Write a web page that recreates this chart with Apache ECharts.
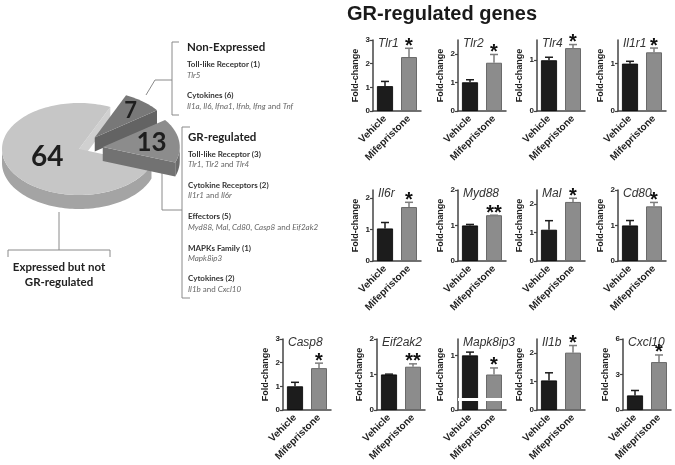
<!DOCTYPE html>
<html><head><meta charset="utf-8">
<script src="https://cdn.jsdelivr.net/npm/echarts@6/dist/echarts.min.js"></script>
<style>html,body{margin:0;padding:0;background:#fff}#c{width:675px;height:465px}</style>
</head><body><div id="c"></div>
<script>
// ---------- data ----------
const genes = ['Tlr1','Tlr2','Tlr4','Il1r1','Il6r','Myd88','Mal','Cd80','Casp8','Eif2ak2','Mapk8ip3','Il1b','Cxcl10'];
const groups = ['Vehicle','Mifepristone'];
const vehicleMean   = [1.05,1.01,1.00,1.00,1.03,1.00,1.10,1.00,1.00,1.00,1.00,1.04,1.23];
const vehicleErrTop = [1.25,1.10,1.06,1.05,1.22,1.03,1.42,1.14,1.17,1.01,1.06,1.31,1.65];
const mifeMean      = [2.28,1.70,1.24,1.24,1.71,1.29,2.08,1.54,1.77,1.22,0.65,2.02,4.05];
const mifeErrTop    = [2.65,1.99,1.31,1.33,1.86,1.29,2.21,1.65,1.98,1.30,0.77,2.27,4.65];
const significance  = ['*','*','*','*','*','**','*','*','*','**','*','*','*'];
const axisMax       = [3,2.5,1.4,1.5,2.25,2,2.5,2,3,2,1.3,2.5,6];
const tickValues    = [[0,1,2,3],[0,1,2],[0,1],[0,1],[0,1,2],[0,1,2],[0,1,2],[0,1,2],[0,1,2,3],[0,1,2],[0,1],[0,1,2],[0,3,6]];
const axisBreakAt   = [null,null,null,null,null,null,null,null,null,null,0.2,null,null];

const pieCategories = ['Expressed but not GR-regulated','Non-Expressed','GR-regulated'];
const pieValues = [64, 7, 13];

// ---------- layout / styles ----------
const panelLeft = [373,458,537,618, 373,458,537,618, 283,377,458,537,623];
const panelTop  = [40,40,40,40, 190,190,190,190, 339,339,339,339,339];
const panelW = 48, panelH = 71;
const vehColor = '#1c1c1c', mifeColor = '#8c8c8c';
const chartFont = 'Liberation Sans, Arial, sans-serif';
const pieFont = 'Lato, Open Sans, sans-serif';

const chart = echarts.init(document.getElementById('c'));
const grids = [], xAxes = [], yAxes = [], series = [], titles = [];

titles.push({text:'GR-regulated genes', left:347, top:4, padding:0,
  textStyle:{fontFamily:chartFont, fontSize:20, fontWeight:'bold', color:'#1a1a1a'}});

genes.forEach((g, i) => {
  grids.push({left:panelLeft[i], top:panelTop[i], width:panelW, height:panelH});
  titles.push({text:g, left:panelLeft[i] + 5, top:panelTop[i] - 2, padding:0,
    textStyle:{fontFamily:chartFont, fontSize:12, fontStyle:'italic', fontWeight:'normal', color:'#333'}});
  xAxes.push({type:'category', gridIndex:i, data:groups,
    axisLine:{lineStyle:{color:'#444', width:1.5}},
    axisTick:{alignWithLabel:true, length:3, lineStyle:{color:'#444', width:1.2}},
    axisLabel:{rotate:45, interval:0, margin:6, fontFamily:chartFont, fontSize:10, fontWeight:'bold', color:'#222'}});
  yAxes.push({type:'value', gridIndex:i, min:0, max:axisMax[i],
    splitLine:{show:false},
    axisLine:{show:true, lineStyle:{color:'#444', width:1.5}},
    axisTick:{show:true, length:3, customValues:tickValues[i], lineStyle:{color:'#444', width:1.2}},
    axisLabel:{customValues:tickValues[i], margin:3, fontFamily:chartFont, fontSize:8, fontWeight:'bold', color:'#222'},
    name:'Fold-change', nameLocation:'middle', nameGap:13, nameRotate:90,
    nameTextStyle:{fontFamily:chartFont, fontSize:9, fontWeight:'bold', color:'#222'}});
  const bar = {type:'bar', xAxisIndex:i, yAxisIndex:i, barWidth:16,
    data:[{value:vehicleMean[i], itemStyle:{color:vehColor, borderColor:'#000', borderWidth:0.8}},
          {value:mifeMean[i], itemStyle:{color:mifeColor, borderColor:'#6a6a6a', borderWidth:1}}]};
  if (axisBreakAt[i] != null) {
    bar.markLine = {silent:true, symbol:'none', label:{show:false},
      lineStyle:{color:'#fff', width:3, type:'solid'}, data:[{yAxis:axisBreakAt[i]}]};
  }
  series.push(bar);
  series.push({type:'custom', xAxisIndex:i, yAxisIndex:i, z:3,
    data:[[0, vehicleMean[i], vehicleErrTop[i]], [1, mifeMean[i], mifeErrTop[i]]],
    renderItem:(params, api) => {
      const x = api.value(0), m = api.value(1), e = api.value(2);
      const p0 = api.coord([x, m]), p1 = api.coord([x, e]);
      const col = x === 0 ? vehColor : '#7d7d7d';
      const ch = [
        {type:'line', shape:{x1:p0[0], y1:p0[1], x2:p1[0], y2:p1[1]}, style:{stroke:col, lineWidth:1.5}},
        {type:'line', shape:{x1:p1[0]-4, y1:p1[1], x2:p1[0]+4, y2:p1[1]}, style:{stroke:col, lineWidth:1.5}}
      ];
      if (params.dataIndex === 1 && significance[i]) {
        ch.push({type:'text', style:{text:significance[i], x:p1[0], y:p1[1] - 2,
          align:'center', verticalAlign:'middle', fontFamily:chartFont, fontSize:20, fontWeight:'bold', fill:'#111'}});
      }
      return {type:'group', children:ch};
    }});
});

// ---------- 3D-style pie ----------
const pieCenter = [79, 149], rx = 77, ry = 46, depth = 14;
const pieStart = 66;           // degrees, counter-clockwise
const pieOrder = [0, 2, 1];    // counter-clockwise order of slices
const pieExplode = [0, 25, 24];
const pieTop  = ['#c6c6c6', '#787878', '#8c8c8c'];
const pieWall = ['#a4a4a4', '#5c5c5c', '#6c6c6c'];
const pieFace = ['#d0d0d0', '#636363', '#727272'];
const pieLabelR = [0.45, 0.74, 0.64];
const pieLabelSize = [28, 22, 26];

function sliceAngles() {
  const total = pieValues.reduce((a,b)=>a+b,0);
  const res = [];
  let a = pieStart;
  pieOrder.forEach(k => { const span = pieValues[k]/total*360; res[k] = [a, a+span]; a += span; });
  return res;
}
series.push({type:'custom', coordinateSystem:'none', z:1, silent:true,
  data: pieValues.map((v,k)=>[k, v]),
  renderItem:(params, api) => {
    const k = params.dataIndex;
    const [a0, a1] = sliceAngles()[k];
    const rad = d => d*Math.PI/180;
    const b = rad((a0+a1)/2);
    const dx = pieExplode[k]*Math.cos(b), dy = -pieExplode[k]*Math.sin(b)*ry/rx;
    const cx = pieCenter[0]+dx, cy = pieCenter[1]+dy;
    const pt = (t, down) => [cx + rx*Math.cos(rad(t)), cy - ry*Math.sin(rad(t)) + (down?depth:0)];
    const arc = (s, e, down) => { const pts=[]; const n=Math.max(2, Math.ceil((e-s)/2)); for(let j=0;j<=n;j++) pts.push(pt(s+(e-s)*j/n, down)); return pts; };
    const ch = [];
    for (let q=-1;q<=1;q++){
      const lo = Math.max(a0, 180+360*q), hi = Math.min(a1, 360+360*q);
      if (lo < hi) {
        const pts = arc(lo, hi, false).concat(arc(lo, hi, true).reverse());
        ch.push({type:'polygon', shape:{points:pts}, style:{fill:pieWall[k]}});
      }
    }
    if (Math.cos(rad(a0)) > 0) {
      const e0 = pt(a0,false), e1 = pt(a0,true);
      ch.push({type:'polygon', shape:{points:[[cx,cy],e0,e1,[cx,cy+depth]]}, style:{fill:pieFace[k]}});
    }
    if (Math.cos(rad(a1)) < 0) {
      const e0 = pt(a1,false), e1 = pt(a1,true);
      ch.push({type:'polygon', shape:{points:[[cx,cy],e0,e1,[cx,cy+depth]]}, style:{fill:pieFace[k]}});
    }
    ch.push({type:'polygon', shape:{points:[[cx,cy]].concat(arc(a0,a1,false))}, style:{fill:pieTop[k]}});
    const lx = cx + pieLabelR[k]*rx*Math.cos(b), ly = cy - pieLabelR[k]*ry*Math.sin(b);
    ch.push({type:'text', style:{text:String(pieValues[k]), x:lx, y:ly, align:'center', verticalAlign:'middle',
      fontFamily:pieFont, fontSize:pieLabelSize[k], fontWeight:'bold', fill:'#1e1e1e'}});
    return {type:'group', children:ch};
  }});

// ---------- annotations of the pie ----------
const lineStyle = {stroke:'#8a8a8a', lineWidth:1, fill:null};
const rich = {i:{fontStyle:'italic', fontFamily:pieFont, fontSize:8, fill:'#666'}, n:{fontFamily:pieFont, fontSize:8, fill:'#666'}};
function head(t, x, y){ return {type:'text', style:{text:t, x, y, verticalAlign:'middle', fontFamily:pieFont, fontSize:11.5, fontWeight:'bold', fill:'#222'}}; }
function sub(t, x, y){ return {type:'text', style:{text:t, x, y, verticalAlign:'middle', fontFamily:pieFont, fontSize:8, fontWeight:'bold', fill:'#333'}}; }
function gl(t, x, y){ return {type:'text', style:{text:t, x, y, verticalAlign:'middle', rich, fontFamily:pieFont, fontSize:8}}; }
const graphics = [
  {type:'polyline', shape:{points:[[179,42],[172,42],[172,115],[179,115]]}, style:lineStyle},
  {type:'polyline', shape:{points:[[146,95],[155,80],[172,80]]}, style:lineStyle},
  {type:'polyline', shape:{points:[[190,127],[182,127],[182,298],[190,298]]}, style:lineStyle},
  {type:'polyline', shape:{points:[[162,172],[162,210],[182,210]]}, style:lineStyle},
  {type:'polyline', shape:{points:[[59,212],[59,250]]}, style:lineStyle},
  {type:'polyline', shape:{points:[[8,257],[8,250],[110,250],[110,257]]}, style:lineStyle},
  head('Non-Expressed', 187, 47),
  sub('Toll-like Receptor (1)', 187, 64),
  gl('{i|Tlr5}', 187, 75),
  sub('Cytokines (6)', 187, 95),
  gl('{i|Il1a, Il6, Ifna1, Ifnb, Ifng} {n|and} {i|Tnf}', 187, 106),
  head('GR-regulated', 188, 137),
  sub('Toll-like Receptor (3)', 188, 154),
  gl('{i|Tlr1, Tlr2} {n|and} {i|Tlr4}', 188, 164),
  sub('Cytokine Receptors (2)', 188, 185),
  gl('{i|Il1r1} {n|and} {i|Il6r}', 188, 195),
  sub('Effectors (5)', 188, 216),
  gl('{i|Myd88, Mal, Cd80, Casp8} {n|and} {i|Eif2ak2}', 188, 227),
  sub('MAPKs Family (1)', 188, 248),
  gl('{i|Mapk8ip3}', 188, 258),
  sub('Cytokines (2)', 188, 278),
  gl('{i|Il1b} {n|and} {i|Cxcl10}', 188, 289),
  {type:'text', style:{text:'Expressed but not\nGR-regulated', x:59, y:275, align:'center', verticalAlign:'middle', lineHeight:15,
    fontFamily:pieFont, fontSize:11.5, fontWeight:'bold', fill:'#222'}}
];

chart.setOption({
  animation:false,
  title:titles, grid:grids, xAxis:xAxes, yAxis:yAxes, series:series, graphic:graphics
});
</script></body></html>
